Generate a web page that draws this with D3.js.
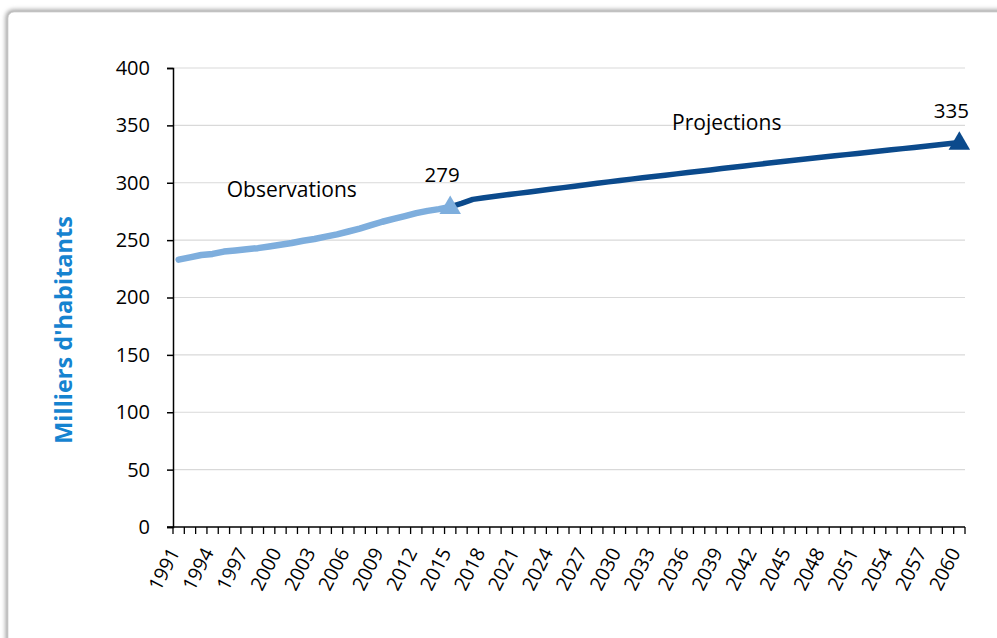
<!DOCTYPE html>
<html>
<head>
<meta charset="utf-8">
<script src="https://cdn.jsdelivr.net/npm/d3@7"></script>
<style>
  html, body { margin: 0; padding: 0; background: #fff; }
  svg { display: block; }
</style>
</head>
<body>
<div id="chart"></div>
<script>
// ---- Data ----
const years = d3.range(1991, 2061).map(String);
const obsYears = d3.range(1991, 2016).map(String);
const obsValues = [233, 235, 237, 238, 240, 241, 242, 243, 244.5, 246,
                   247.5, 249.5, 251, 253, 255, 257.5, 260, 263, 266, 268.5,
                   271, 273.5, 275.5, 277, 279];
const projYears = d3.range(2015, 2061).map(String);
const projValues = [279, 282, 285.5, 287, 288.25, 289.5, 290.75, 292, 293.25, 294.5,
                    295.75, 297, 298.25, 299.5, 300.75, 302, 303.15, 304.3, 305.45, 306.6,
                    307.75, 308.9, 310.05, 311.2, 312.35, 313.5, 314.65, 315.8, 316.95, 318.1,
                    319.25, 320.3, 321.35, 322.4, 323.45, 324.5, 325.55, 326.6, 327.65, 328.7,
                    329.75, 330.8, 331.85, 332.9, 333.95, 335];
const yTicks = [0, 50, 100, 150, 200, 250, 300, 350, 400];
const labelYears = years.filter((y, i) => i % 3 === 0);
const endLabels = [{year: "2015", value: 279, text: "279"}, {year: "2060", value: 335, text: "335"}];
const seriesLabels = [{year: "2001", value: 287.5, text: "Observations"}, {year: "2039", value: 346, text: "Projections"}];

(function () {
const W = 997, H = 638;
const svg = d3.select("#chart").append("svg").attr("width", W).attr("height", H);

// frame with shadow
const defs = svg.append("defs");
const f = defs.append("filter").attr("id", "sh").attr("x", "-5%").attr("y", "-5%").attr("width", "110%").attr("height", "110%");
f.append("feGaussianBlur").attr("stdDeviation", 2.2);
svg.append("rect").attr("x", 5.5).attr("y", 9.5).attr("width", 1010).attr("height", 660)
  .attr("rx", 8).attr("fill", "#a5a5a5").attr("filter", "url(#sh)");
svg.append("rect").attr("x", 8).attr("y", 12).attr("width", 1010).attr("height", 660)
  .attr("rx", 6).attr("fill", "#fff").attr("stroke", "#d0d0d0").attr("stroke-width", 0.8);

const mL = 173, mR = 965, mT = 68, mB = 527;
const x = d3.scaleBand().domain(years).range([mL, mR]).padding(0);
const y = d3.scaleLinear().domain([0, 400]).range([mB, mT]);
const cx = d => x(d) + x.bandwidth() / 2;

const font = "'Open Sans', sans-serif";

// gridlines
svg.append("g").selectAll("line").data(yTicks.filter(d => d > 0)).join("line")
  .attr("x1", mL).attr("x2", mR)
  .attr("y1", d => y(d)).attr("y2", d => y(d))
  .attr("stroke", "#d9d9d9").attr("stroke-width", 1.2);

// y axis
const yAxis = svg.append("g").attr("transform", `translate(${mL},0)`)
  .call(d3.axisLeft(y).tickValues(yTicks).tickSize(6).tickPadding(17));
yAxis.select(".domain").attr("stroke", "#000").attr("stroke-width", 1.5);
yAxis.selectAll(".tick line").attr("stroke", "#000").attr("stroke-width", 1.5);
yAxis.selectAll("text").attr("font-family", font).attr("font-size", 20).attr("fill", "#000");

// x axis line and ticks at band boundaries
svg.append("line").attr("x1", mL - 6).attr("x2", mR)
  .attr("y1", mB).attr("y2", mB).attr("stroke", "#000").attr("stroke-width", 1.5);
const bounds = years.map(d => x(d)).concat([mR]);
svg.append("g").selectAll("line").data(bounds).join("line")
  .attr("x1", d => d).attr("x2", d => d)
  .attr("y1", mB).attr("y2", mB + 7)
  .attr("stroke", "#000").attr("stroke-width", 1.3);
svg.append("g").selectAll("text").data(labelYears).join("text")
  .attr("transform", d => `translate(${cx(d) - 3},${mB + 23}) rotate(-63)`)
  .attr("text-anchor", "end").attr("dominant-baseline", "middle")
  .attr("font-family", font).attr("font-size", 19.5).attr("fill", "#000")
  .text(d => d);

// y title
svg.append("text")
  .attr("transform", `translate(72,330) rotate(-90)`)
  .attr("text-anchor", "middle")
  .attr("font-family", font).attr("font-weight", "bold").attr("font-size", 23.5)
  .attr("fill", "#1583d0").text("Milliers d'habitants");

// lines
const line = d3.line().x(d => cx(d[0])).y(d => y(d[1]));
const obs = obsYears.map((d, i) => [d, obsValues[i]]);
const proj = projYears.map((d, i) => [d, projValues[i]]);
svg.append("path").datum(proj).attr("d", line).attr("fill", "none")
  .attr("stroke", "#0b4a8c").attr("stroke-width", 5.5).attr("stroke-linejoin", "round");
svg.append("path").datum(obs).attr("d", line).attr("fill", "none")
  .attr("stroke", "#7eaedd").attr("stroke-width", 6.5).attr("stroke-linejoin", "round").attr("stroke-linecap", "round");

// end markers
const tri = d3.symbol().type(d3.symbolTriangle).size(200);
svg.append("path").attr("d", tri).attr("fill", "#7eaedd")
  .attr("transform", `translate(${cx("2015")},${y(279) + 1})`);
svg.append("path").attr("d", tri).attr("fill", "#0b4a8c")
  .attr("transform", `translate(${cx("2060")},${y(335) + 1})`);

// value labels
svg.append("g").selectAll("text").data(endLabels).join("text")
  .attr("x", d => cx(d.year) - 8).attr("y", d => y(d.value) - 25)
  .attr("text-anchor", "middle")
  .attr("font-family", font).attr("font-size", 20.5).attr("fill", "#000")
  .text(d => d.text);

// series labels
svg.append("g").selectAll("text").data(seriesLabels).join("text")
  .attr("x", (d, i) => cx(d.year) + (i === 1 ? 5 : 0)).attr("y", d => y(d.value))
  .attr("text-anchor", "middle")
  .attr("font-family", font).attr("font-size", 21).attr("fill", "#000")
  .text(d => d.text);
})();
</script>
</body>
</html>
